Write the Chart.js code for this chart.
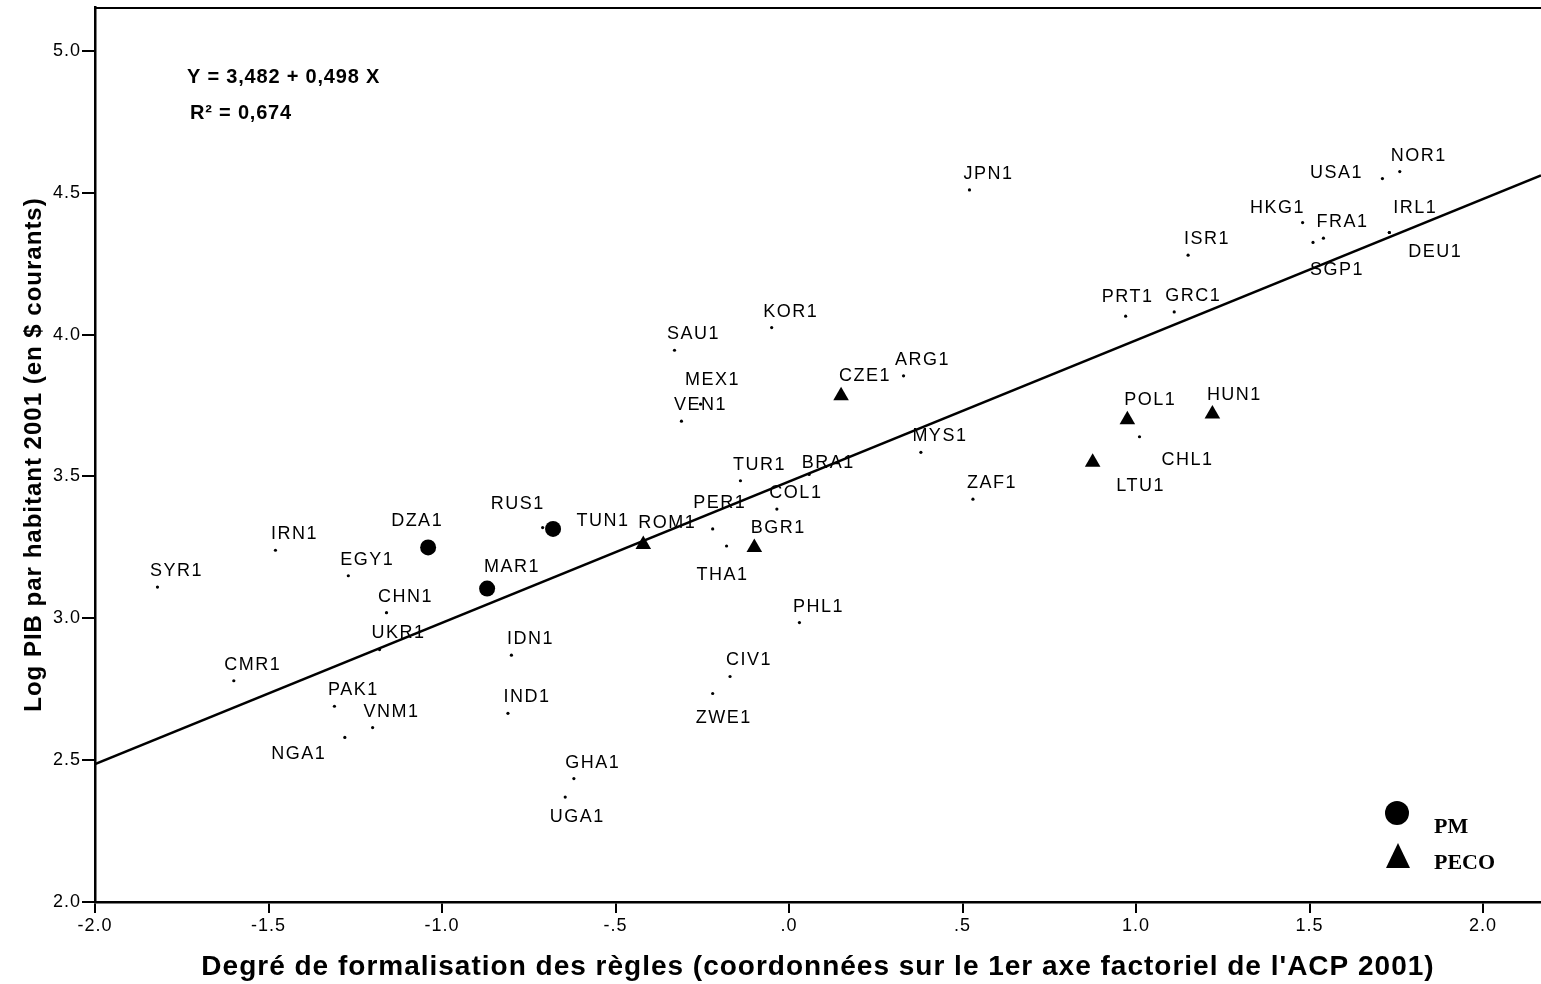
<!DOCTYPE html>
<html lang="fr">
<head>
<meta charset="UTF-8">
<title>Log PIB par habitant 2001 vs degré de formalisation des règles</title>
<script src="https://cdn.jsdelivr.net/npm/chart.js"></script>
<style>
  html, body { margin: 0; padding: 0; background: #fff; overflow: hidden; }
  canvas { display: block; }
</style>
</head>
<body>
<canvas id="scatter" width="1541" height="984"></canvas>
<script>
// Country codes and their coordinates
const countries = ['SYR1','IRN1','EGY1','DZA1','CHN1','MAR1','UKR1','CMR1','PAK1','VNM1',
  'NGA1','IDN1','IND1','RUS1','TUN1','SAU1','KOR1','MEX1','VEN1','CZE1',
  'ARG1','MYS1','ZAF1','TUR1','BRA1','COL1','PER1','THA1','BGR1','ROM1',
  'JPN1','PHL1','CIV1','ZWE1','GHA1','UGA1','NOR1','USA1','HKG1','FRA1',
  'SGP1','IRL1','DEU1','ISR1','PRT1','GRC1','POL1','HUN1','CHL1','LTU1'];
const formalisation = [-1.82,-1.48,-1.27,-1.04,-1.16,-0.87,-1.18,-1.60,-1.31,-1.20,
  -1.28,-0.80,-0.81,-0.71,-0.68,-0.33,-0.05,-0.255,-0.31,0.15,
  0.33,0.38,0.53,-0.14,0.058,-0.035,-0.22,-0.18,-0.10,-0.42,
  0.52,0.03,-0.17,-0.22,-0.62,-0.645,1.76,1.71,1.48,1.54,
  1.51,1.73,1.73,1.15,0.97,1.11,0.975,1.22,1.01,0.875];
const logPib = [3.11,3.24,3.15,3.25,3.02,3.105,2.89,2.78,2.69,2.615,
  2.58,2.87,2.665,3.32,3.315,3.945,4.025,3.755,3.695,3.785,
  3.855,3.585,3.42,3.485,3.507,3.385,3.315,3.255,3.25,3.26,
  4.51,2.985,2.795,2.735,2.435,2.37,4.575,4.55,4.395,4.34,
  4.325,4.36,4.36,4.28,4.065,4.08,3.70,3.72,3.64,3.55];
const pmCountries = ['DZA1','MAR1','TUN1'];
const pecoCountries = ['CZE1','POL1','HUN1','LTU1','ROM1','BGR1'];

// Regression Y = 3,482 + 0,498 X
const intercept = 3.482;
const slope = 0.498;
const equationText = 'Y = 3,482 + 0,498 X';
const r2Text = 'R\u00B2 = 0,674';

const xTicks = [-2, -1.5, -1, -0.5, 0, 0.5, 1, 1.5, 2];
const yTicks = [2, 2.5, 3, 3.5, 4, 4.5, 5];
const X_MIN = -2, X_MAX = 2.167, Y_MIN = 2, Y_MAX = 5.155;

// label offsets in pixels (text centre relative to point), default above-right
const labelOffsets = {
  DZA1: [-11, -27], MAR1: [25, -23], NGA1: [-46, 16], RUS1: [-25, -25], TUN1: [50, -9],
  MEX1: [12, -25], CZE1: [24, -21], BRA1: [19, -12], PER1: [7, -27], THA1: [-4, 28],
  BGR1: [24, -20], ROM1: [24, -23], ZWE1: [11, 24], UGA1: [12, 19], USA1: [-46, -7],
  HKG1: [-25, -16], SGP1: [24, 27], IRL1: [26, -25], DEU1: [46, 19], PRT1: [2, -20],
  POL1: [23, -21], HUN1: [22, -20], CHL1: [48, 22], LTU1: [48, 23]
};

// SPSS style numbers: ".5", "-.5", ".0"
function spssFmt(v) {
  let s = v.toFixed(1);
  if (s.startsWith('0.')) s = s.slice(1);
  if (s.startsWith('-0.')) s = '-' + s.slice(2);
  return s;
}

const plainPts = [], pmPts = [], pecoPts = [];
countries.forEach((c, i) => {
  const p = { x: formalisation[i], y: logPib[i], label: c };
  if (pmCountries.includes(c)) pmPts.push(p);
  else if (pecoCountries.includes(c)) pecoPts.push(p);
  else plainPts.push(p);
});

const fitLine = [
  { x: X_MIN, y: intercept + slope * X_MIN },
  { x: X_MAX, y: intercept + slope * X_MAX }
];

// wider letter spacing for all the chart text (ticks, titles)
const spacing = {
  id: 'spacing',
  beforeDraw(chart) { chart.ctx.letterSpacing = '1px'; }
};

const annotations = {
  id: 'annotations',
  afterDatasetsDraw(chart) {
    const ctx = chart.ctx;
    const xs = chart.scales.x, ys = chart.scales.y;
    const area = chart.chartArea;
    ctx.save();
    // top frame line
    ctx.strokeStyle = '#000';
    ctx.lineWidth = 2;
    ctx.beginPath();
    ctx.moveTo(area.left, area.top + 1);
    ctx.lineTo(area.right, area.top + 1);
    ctx.stroke();

    // point labels
    ctx.fillStyle = '#000';
    ctx.font = '18px "Liberation Sans", Arial, sans-serif';
    ctx.letterSpacing = '1.5px';
    ctx.textAlign = 'center';
    ctx.textBaseline = 'middle';
    countries.forEach((c, i) => {
      const off = labelOffsets[c] || [19, -17];
      const px = xs.getPixelForValue(formalisation[i]);
      const py = ys.getPixelForValue(logPib[i]);
      ctx.fillText(c, px + off[0], py + off[1] + 1);
    });

    // equation
    ctx.letterSpacing = '0.8px';
    ctx.textAlign = 'left';
    ctx.textBaseline = 'alphabetic';
    ctx.font = 'bold 20px "Liberation Sans", Arial, sans-serif';
    ctx.fillText(equationText, 187, 83);
    ctx.fillText(r2Text, 190, 119);

    // legend
    ctx.letterSpacing = '0px';
    ctx.beginPath();
    ctx.arc(1397, 813, 12, 0, Math.PI * 2);
    ctx.fill();
    ctx.beginPath();
    ctx.moveTo(1398, 843);
    ctx.lineTo(1410, 868);
    ctx.lineTo(1386, 868);
    ctx.closePath();
    ctx.fill();
    ctx.font = 'bold 22px "Liberation Serif", "Times New Roman", serif';
    ctx.fillText('PM', 1434, 833);
    ctx.fillText('PECO', 1434, 869);
    ctx.restore();
  }
};

new Chart(document.getElementById('scatter'), {
  type: 'scatter',
  data: {
    datasets: [
      {
        label: 'Régression',
        type: 'line',
        data: fitLine,
        borderColor: '#000',
        borderWidth: 2.5,
        pointRadius: 0,
        fill: false,
        order: 3
      },
      {
        label: 'Pays',
        data: plainPts,
        pointStyle: 'circle',
        pointRadius: 1.6,
        backgroundColor: '#000',
        borderColor: '#000',
        borderWidth: 0,
        order: 2
      },
      {
        label: 'PM',
        data: pmPts,
        pointStyle: 'circle',
        pointRadius: 8,
        backgroundColor: '#000',
        borderColor: '#000',
        borderWidth: 0,
        order: 1
      },
      {
        label: 'PECO',
        data: pecoPts,
        pointStyle: 'triangle',
        pointRadius: 9,
        backgroundColor: '#000',
        borderColor: '#000',
        borderWidth: 0,
        order: 1
      }
    ]
  },
  options: {
    responsive: false,
    animation: false,
    layout: { autoPadding: false, padding: { top: 7, right: 0, left: 0, bottom: 0 } },
    plugins: {
      legend: { display: false },
      tooltip: { enabled: false }
    },
    scales: {
      x: {
        type: 'linear',
        min: X_MIN,
        max: X_MAX,
        afterBuildTicks: s => { s.ticks = xTicks.map(v => ({ value: v })); },
        afterFit: s => { s.height = 82; s.paddingLeft = 0; s.paddingRight = 0; },
        ticks: {
          color: '#000',
          font: { family: '"Liberation Sans", Arial, sans-serif', size: 18 },
          padding: 2,
          maxRotation: 0,
          callback: v => spssFmt(v)
        },
        grid: { drawOnChartArea: false, drawTicks: true, tickLength: 11, color: '#000', lineWidth: 2 },
        border: { display: true, color: '#000', width: 2.5 },
        title: {
          display: true,
          text: "Degré de formalisation des règles (coordonnées sur le 1er axe factoriel de l'ACP 2001)",
          color: '#000',
          font: { family: '"Liberation Sans", Arial, sans-serif', size: 28, weight: 'bold' },
          padding: { top: 0, bottom: 0 }
        }
      },
      y: {
        type: 'linear',
        min: Y_MIN,
        max: Y_MAX,
        afterBuildTicks: s => { s.ticks = yTicks.map(v => ({ value: v })); },
        afterFit: s => { s.width = 95; s.paddingTop = 0; s.paddingBottom = 0; },
        ticks: {
          color: '#000',
          font: { family: '"Liberation Sans", Arial, sans-serif', size: 18 },
          padding: 1,
          callback: v => spssFmt(v)
        },
        grid: { drawOnChartArea: false, drawTicks: true, tickLength: 13, color: '#000', lineWidth: 2 },
        border: { display: true, color: '#000', width: 2.5 },
        title: {
          display: true,
          text: 'Log PIB par habitant 2001 (en $ courants)',
          color: '#000',
          font: { family: '"Liberation Sans", Arial, sans-serif', size: 24, weight: 'bold' },
          padding: { top: 20, bottom: 0 }
        }
      }
    }
  },
  plugins: [spacing, annotations]
});
</script>
</body>
</html>
